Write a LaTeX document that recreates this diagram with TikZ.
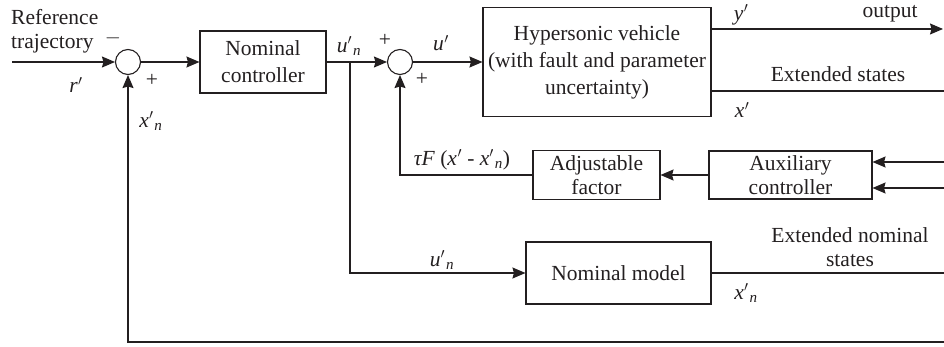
\documentclass[tikz,border=0pt]{standalone}
\usepackage{fontspec}
\setmainfont{Liberation Serif}
\usetikzlibrary{arrows.meta}
\definecolor{ink}{HTML}{231F20}
\newcommand\pv[2]{\textit{#1}$'$\textsubscript{\kern1pt\textit{#2}}}
\newcommand\pp[1]{\textit{#1}\kern.5pt$'$}
\tikzset{
  every node/.style={text=ink, font=\fontsize{21.5}{27}\selectfont},
  line/.style={draw=ink, line width=1.1pt},
  arr/.style={line, -{Stealth[length=13pt,width=11pt,inset=1.5pt]}},
  blk/.style={draw=ink, line width=1.1pt, rectangle, inner sep=0pt, align=center},
  sumj/.style={draw=ink, line width=1.1pt, circle, minimum size=25pt, inner sep=0pt},
  lbl/.style={inner sep=0pt}
}
\begin{document}
\begin{tikzpicture}[x=1pt,y=-1pt]
\useasboundingbox (0,0) rectangle (944,347);
% blocks
\node[sumj] (s1) at (128,62) {};
\node[blk, minimum width=126pt, minimum height=62pt] (nc) at (263,62) {Nominal\\controller};
\node[sumj] (s2) at (400,62) {};
\node[blk, minimum width=228pt, minimum height=109pt] (hv) at (597,62) {Hypersonic vehicle\\(with fault and parameter\\uncertainty)};
\node[blk, minimum width=127pt, minimum height=49pt] (af) at (596.5,175) {Adjustable\\[-3pt]factor};
\node[blk, minimum width=163pt, minimum height=48pt] (ac) at (790.5,175) {Auxiliary\\[-3pt]controller};
\node[blk, minimum width=185pt, minimum height=62pt] (nm) at (618.5,273) {Nominal model};
% free ends
\coordinate (ref) at (12,62);
\coordinate (br) at (350,62);
\coordinate (yout) at (943,29);
\coordinate (xout) at (944,91);
\coordinate (in1) at (944,162);
\coordinate (in2) at (944,188);
\coordinate (nmout) at (944,273);
\coordinate (fb) at (944,342);
% connectors
\draw[arr] (ref) -- (s1.west);
\draw[arr] (s1.east) -- (nc.west);
\draw[arr] (nc.east) -- (s2.west);
\draw[arr] (br) |- (nm.west);
\draw[arr] (s2.east) -- (hv.west);
\draw[arr] (hv.east |- yout) -- (yout);
\draw[line] (hv.east |- xout) -- (xout);
\draw[arr] (in1) -- (ac.east |- in1);
\draw[arr] (in2) -- (ac.east |- in2);
\draw[arr] (ac.west) -- (af.east);
\draw[arr] (af.west) -| (s2.south);
\draw[line] (nm.east) -- (nmout);
\draw[arr] (fb) -| (s1.south);
% labels
\node[lbl, anchor=west, align=left] (reftxt) at (11,31) {Reference\\[-3pt]trajectory};
\node[lbl] (m1) at (113,38) {$-$};
\node[lbl] (p1) at (152,80) {+};
\node[lbl] (rl) at (76,85) {\pp{r}};
\node[lbl] (xn1) at (151,121) {\pv{x}{n}};
\node[lbl] (un1) at (349,46) {\pv{u}{n}};
\node[lbl] (p2) at (385,40) {+};
\node[lbl] (p3) at (422,79) {+};
\node[lbl] (ul) at (441,43) {\pp{u}};
\node[lbl] (yl) at (741,15) {\pp{y}};
\node[lbl] (outl) at (890,14) {output};
\node[lbl] (esl) at (838,74) {Extended states};
\node[lbl] (xl) at (742,110) {\pp{x}};
\node[lbl] (tfl) at (462,160) {\textit{τF} (\pp{x} - \pv{x}{n})};
\node[lbl] (un2) at (442,260) {\pv{u}{n}};
\node[lbl, align=center] (ensl) at (850,247) {Extended nominal\\[-3pt]states};
\node[lbl] (xn2) at (746,293) {\pv{x}{n}};
\end{tikzpicture}
\end{document}
